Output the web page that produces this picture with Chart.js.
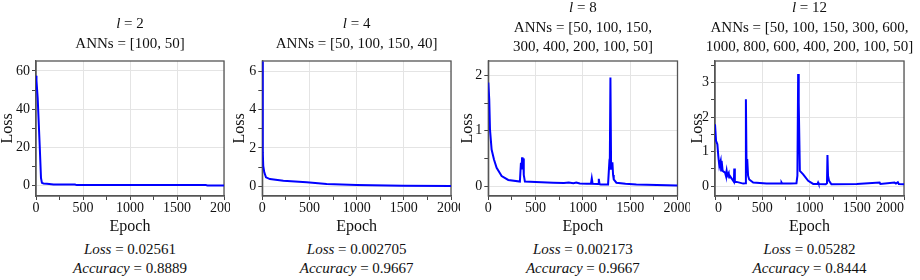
<!DOCTYPE html>
<html>
<head>
<meta charset="utf-8">
<script src="https://cdn.jsdelivr.net/npm/chart.js@4.4.1/dist/chart.umd.min.js"></script>
<style>
  html, body { margin: 0; padding: 0; background: #fff; }
  #wrap { position: relative; width: 920px; height: 280px; overflow: hidden;
          font-family: "Liberation Serif", "Times New Roman", serif; color: #111; }
  canvas { position: absolute; top: 0; }
  .ttl, .met { position: absolute; width: 300px; text-align: center; font-size: 15px;
               line-height: 19.5px; white-space: nowrap; }
</style>
</head>
<body>
<div id="wrap">
  <canvas id="c1" width="230" height="240" style="left:0px"></canvas>
  <canvas id="c2" width="230" height="240" style="left:230px"></canvas>
  <canvas id="c3" width="230" height="240" style="left:460px"></canvas>
  <canvas id="c4" width="230" height="240" style="left:690px"></canvas>

  <div class="ttl" style="left:-20px; top:14.25px"><i>l</i> = 2<br>ANNs = [100, 50]</div>
  <div class="ttl" style="left:206.7px; top:14.25px"><i>l</i> = 4<br>ANNs = [50, 100, 150, 40]</div>
  <div class="ttl" style="left:432.9px; top:-1.75px"><i>l</i> = 8<br>ANNs = [50, 100, 150,<br>300, 400, 200, 100, 50]</div>
  <div class="ttl" style="left:659.5px; top:-1.75px"><i>l</i> = 12<br>ANNs = [50, 100, 150, 300, 600,<br>1000, 800, 600, 400, 200, 100, 50]</div>

  <div class="met" style="left:-20px; top:239.5px"><i>Loss</i> = 0.02561<br><i>Accuracy</i> = 0.8889</div>
  <div class="met" style="left:206.7px; top:239.5px"><i>Loss</i> = 0.002705<br><i>Accuracy</i> = 0.9667</div>
  <div class="met" style="left:432.9px; top:239.5px"><i>Loss</i> = 0.002173<br><i>Accuracy</i> = 0.9667</div>
  <div class="met" style="left:659.5px; top:239.5px"><i>Loss</i> = 0.05282<br><i>Accuracy</i> = 0.8444</div>
</div>
<script>
// epoch ticks shared by all panels
const epochTicks = [0, 500, 1000, 1500, 2000];
const epochMinor = [250, 750, 1250, 1750];

// l = 2
const epochs2 = [0, 5, 18, 39, 53, 63, 80, 116, 187, 415, 433, 1806, 1824, 2000];
const loss2 = [57.5, 55, 45.6, 21.3, 4.0, 1.4, 1.1, 0.9, 0.5, 0.5, 0.2, 0.2, 0.02, 0.02];
const lossTicks2 = [0, 20, 40, 60];
const lossMinor2 = [10, 30, 50];

// l = 4
const epochs4 = [0, 3, 7, 10, 21, 39, 81, 223, 470, 682, 1000, 1495, 2000];
const loss4 = [6.5, 4.0, 1.77, 1.07, 0.73, 0.47, 0.38, 0.29, 0.21, 0.12, 0.07, 0.035, 0.02];
const lossTicks4 = [0, 2, 4, 6];
const lossMinor4 = [1, 3, 5];

// l = 8
const epochs8 = [0, 3, 10, 18, 35, 60, 88, 141, 211, 334, 345, 352, 357, 362, 369, 375, 387,
  500, 686, 800, 850, 900, 930, 967, 1040, 1085, 1094, 1103, 1160, 1168, 1176, 1189,
  1266, 1277, 1284, 1291, 1298, 1305, 1312, 1319, 1326, 1354, 1450, 1565, 2000];
const loss8 = [1.87, 1.87, 1.57, 1.02, 0.66, 0.48, 0.33, 0.18, 0.11, 0.08, 0.42, 0.3, 0.52, 0.35, 0.5, 0.2, 0.08,
  0.075, 0.06, 0.055, 0.065, 0.05, 0.065, 0.045, 0.04, 0.04, 0.14, 0.04, 0.035, 0.13, 0.035, 0.03,
  0.03, 0.36, 0.3, 1.96, 0.36, 0.3, 0.43, 0.2, 0.12, 0.06, 0.04, 0.03, 0.01];
const lossTicks8 = [0, 1, 2];
const lossMinor8 = [0.5, 1.5];

// l = 12
const epochs12 = [0, 11, 25, 35, 46, 60, 65, 70, 81, 106, 115, 123, 130, 145, 150, 158, 200, 204, 210,
  229, 299, 320, 327, 334, 341, 350, 362, 404, 545, 700, 704, 710, 800, 862, 872, 880, 886, 898,
  933, 986, 1039, 1085, 1091, 1097, 1172, 1185, 1190, 1196, 1207, 1232, 1500, 1742, 1750,
  1900, 1915, 1935, 1945, 2000];
const loss12 = [1.79, 1.31, 1.21, 0.87, 0.58, 0.73, 0.45, 0.73, 0.44, 0.39, 0.3, 0.44, 0.3, 0.38, 0.25, 0.29, 0.12, 0.51, 0.12,
  0.12, 0.07, 0.08, 2.52, 0.5, 0.78, 0.3, 0.19, 0.1, 0.07, 0.07, 0.1, 0.07, 0.07, 0.08, 0.3, 3.25, 2.42, 0.44,
  0.34, 0.15, 0.06, 0.06, 0.1, 0.06, 0.05, 0.08, 0.9, 0.3, 0.15, 0.05, 0.06, 0.1, 0.06,
  0.1, 0.07, 0.11, 0.06, 0.05];
const lossTicks12 = [0, 1, 2, 3];
const lossMinor12 = [0.5, 1.5, 2.5, 3.5];

const fontFamily = '"Liberation Serif", "Times New Roman", serif';

// box round the plot area, drawn under the loss line
const framePlugin = {
  id: 'frame',
  beforeDatasetsDraw(chart) {
    const { ctx, chartArea: a } = chart;
    ctx.save();
    ctx.strokeStyle = '#555';
    ctx.lineWidth = 1.3;
    ctx.strokeRect(a.left, a.top, a.right - a.left, a.bottom - a.top);
    ctx.restore();
  }
};

function tickList(major, minor) {
  return major.concat(minor).sort((a, b) => a - b).map(v => ({ value: v }));
}

function buildPanel(id, epochs, losses, yMin, yMax, yMajor, yMinor, yWidth, padRight, titlePad, xAlign) {
  const points = epochs.map((e, i) => ({ x: e, y: losses[i] }));
  return new Chart(document.getElementById(id), {
    type: 'line',
    data: {
      datasets: [{
        data: points,
        borderColor: '#0000ff',
        borderWidth: 2,
        pointRadius: 0,
        tension: 0,
        fill: false
      }]
    },
    options: {
      responsive: false,
      animation: false,
      devicePixelRatio: 1,
      layout: { padding: { top: 61, right: padRight, bottom: 0, left: 0 } },
      plugins: { legend: { display: false }, tooltip: { enabled: false } },
      scales: {
        x: {
          type: 'linear',
          min: 0,
          max: 2000,
          afterBuildTicks: s => { s.ticks = tickList(epochTicks, epochMinor); },
          afterFit: s => { s.height = 44; s.paddingLeft = 0; s.paddingRight = 0; },
          ticks: {
            autoSkip: false,
            maxRotation: 0,
            padding: 0,
            align: xAlign,
            color: '#111',
            font: { family: fontFamily, size: 14 },
            callback: v => epochTicks.includes(v) ? String(v) : ''
          },
          grid: {
            color: c => (c.tick && epochTicks.includes(c.tick.value)) ? '#e4e4e4' : 'rgba(0,0,0,0)',
            tickColor: '#444',
            tickLength: 4
          },
          border: { color: '#555', width: 1.3 },
          title: {
            display: true,
            text: 'Epoch',
            color: '#111',
            font: { family: fontFamily, size: 16, lineHeight: 1 },
            padding: { top: 0, bottom: 5.7 }
          }
        },
        y: {
          type: 'linear',
          min: yMin,
          max: yMax,
          afterBuildTicks: s => { s.ticks = tickList(yMajor, yMinor); },
          afterFit: s => { s.width = yWidth; s.paddingTop = 0; s.paddingBottom = 0; },
          ticks: {
            autoSkip: false,
            padding: 2,
            color: '#111',
            font: { family: fontFamily, size: 14 },
            callback: v => yMajor.includes(v) ? String(v) : ''
          },
          grid: {
            color: c => (c.tick && yMajor.includes(c.tick.value)) ? '#e4e4e4' : 'rgba(0,0,0,0)',
            tickColor: '#444',
            tickLength: 4
          },
          border: { color: '#555', width: 1.3 },
          title: {
            display: true,
            text: 'Loss',
            color: '#111',
            font: { family: fontFamily, size: 16, lineHeight: 1 },
            padding: { top: titlePad, bottom: 0 }
          }
        }
      }
    },
    plugins: [framePlugin]
  });
}

buildPanel('c1', epochs2, loss2, -5.5, 65.2, lossTicks2, lossMinor2, 36, 6, 0, 'center');
buildPanel('c2', epochs4, loss4, -0.5, 6.53, lossTicks4, lossMinor4, 32.3, 9, 2, 'center');
buildPanel('c3', epochs8, loss8, -0.18, 2.26, lossTicks8, lossMinor8, 28.3, 12.5, 0, 'center');
buildPanel('c4', epochs12, loss12, -0.29, 3.63, lossTicks12, lossMinor12, 25, 16, 0, 'inner');
</script>
</body>
</html>
